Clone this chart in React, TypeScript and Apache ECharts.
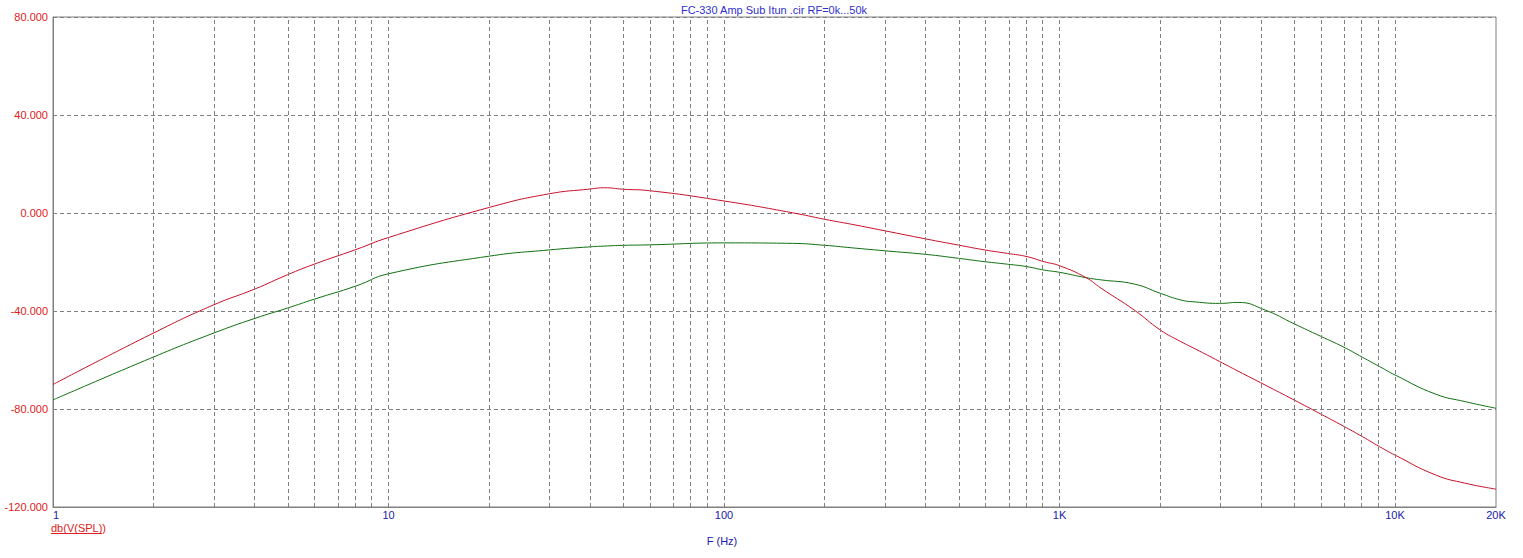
import React, { useEffect, useRef } from "react";
import * as echarts from "echarts";

const TITLE = "FC-330 Amp Sub Itun .cir RF=0k...50k";
const Y_LABEL = "db(V(SPL))";
const X_LABEL = "F (Hz)";

const freqs = [1, 2, 3, 4, 5, 6, 8, 10, 20, 30, 40, 44, 50, 60, 100, 160, 200, 240, 300, 400, 500, 600, 700, 800, 900, 1000, 1200, 1330, 1670, 2000, 2300, 2540, 3000, 3400, 4100, 5000, 6000, 7000, 8000, 9000, 10000, 13200, 16200, 20000];
const redDb = [-70, -48.9, -37.6, -31, -25.2, -20.9, -14.9, -10, 2.3, 7.8, 9.8, 10.3, 9.7, 9.1, 4.9, 0.1, -2.6, -4.6, -7.2, -10.6, -13.1, -15.1, -16.5, -17.8, -19.9, -21.5, -26.4, -30.7, -39.6, -47.8, -52.5, -55.5, -60.6, -64.5, -70.2, -76.3, -82, -86.9, -91.3, -95.4, -98.8, -106.9, -110.3, -112.7];
const greenDb = [-76.3, -58.7, -49.1, -43, -38.8, -35.2, -29.8, -24.8, -17.6, -15.1, -13.8, -13.5, -13.2, -13, -12.2, -12.4, -13.2, -14.2, -15.4, -16.9, -18.5, -19.9, -20.9, -21.9, -23.3, -24.2, -26.4, -27.3, -29, -32.8, -35.5, -36.3, -36.9, -36.5, -39.6, -45.2, -50.3, -54.6, -58.9, -62.7, -66.1, -73.9, -77, -79.7];

const F_MIN = 1;
const F_MAX = 20000;
const Y_MIN = -120;
const Y_MAX = 80;
const Y_STEP = 40;

// vertical grid lines at 2..10 per decade
const gridFreqs: number[] = [];
for (let d = 0; d <= 4; d++) {
  for (let k = 2; k <= 10; k++) {
    const f = k * Math.pow(10, d);
    if (f < F_MAX) gridFreqs.push(f);
  }
}

function fmtFreq(v: number): string {
  const f = Math.round(Math.pow(10, v));
  if (f >= 1000) return f / 1000 + "K";
  return String(f);
}

export default function App() {
  const ref = useRef<HTMLDivElement>(null);
  useEffect(() => {
    if (!ref.current) return;
    const chart = echarts.init(ref.current, undefined, { renderer: "svg" });
    const font = "Liberation Sans, Arial, sans-serif";
    const toPts = (vals: number[]) => freqs.map((f, i) => [Math.log10(f), vals[i]]);
    chart.setOption({
      animation: false,
      backgroundColor: "#ffffff",
      textStyle: { fontFamily: font },
      title: {
        text: TITLE,
        left: 774,
        textAlign: "center",
        top: 4,
        padding: 0,
        textStyle: { fontSize: 11, fontWeight: "normal", color: "#3030d0", fontFamily: font },
      },
      grid: {
        left: 53,
        top: 17,
        right: 27,
        bottom: 51,
        show: true,
        borderColor: "#808080",
        borderWidth: 1,
      },
      xAxis: {
        type: "value",
        min: Math.log10(F_MIN),
        max: Math.log10(F_MAX),
        interval: 1,
        axisLine: { show: true, onZero: false, lineStyle: { color: "#808080" } },
        axisTick: { show: false },
        splitLine: { show: false },
        axisLabel: {
          color: "#2020b0",
          fontSize: 11,
          fontFamily: font,
          margin: 2,
          formatter: fmtFreq,
          showMaxLabel: true,
          alignMinLabel: "left",
        },
      },
      yAxis: {
        type: "value",
        min: Y_MIN,
        max: Y_MAX,
        interval: Y_STEP,
        axisLine: { show: true, onZero: false, lineStyle: { color: "#808080" } },
        axisTick: { show: false },
        splitLine: { show: true, lineStyle: { color: "#808080", type: [4, 3], width: 1 } },
        axisLabel: {
          color: "#e02020",
          fontSize: 11,
          fontFamily: font,
          margin: 5,
          formatter: (v: number) => v.toFixed(3),
        },
      },
      graphic: [
        {
          type: "text",
          left: 51,
          top: 522,
          style: { text: Y_LABEL, fill: "#e02020", fontSize: 11, fontFamily: font },
        },
        {
          type: "line",
          shape: { x1: 51, y1: 533.5, x2: 102, y2: 533.5 },
          style: { stroke: "#e02020", lineWidth: 1 },
        },
        {
          type: "text",
          x: 722,
          y: 541,
          style: { text: X_LABEL, fill: "#2020b0", fontSize: 11, fontFamily: font, align: "center", verticalAlign: "middle" },
        },
      ],
      series: [
        {
          type: "line",
          z: 1,
          data: [],
          silent: true,
          markLine: {
            silent: true,
            symbol: ["none", "none"],
            label: { show: false },
            lineStyle: { color: "#808080", type: [4, 3], width: 1 },
            emphasis: { disabled: true },
            data: gridFreqs.map((f) => ({ xAxis: Math.log10(f) })),
          },
        },
        {
          type: "line",
          z: 3,
          data: toPts(greenDb),
          smooth: 0.5,
          symbol: "none",
          lineStyle: { color: "#107010", width: 1 },
        },
        {
          type: "line",
          z: 4,
          data: toPts(redDb),
          smooth: 0.5,
          symbol: "none",
          lineStyle: { color: "#c8102a", width: 1 },
        },
      ],
    });
    return () => chart.dispose();
  }, []);
  return (
    <div
      ref={ref}
      style={{ position: "fixed", left: 0, top: 0, width: 1523, height: 558, background: "#fff" }}
    />
  );
}
